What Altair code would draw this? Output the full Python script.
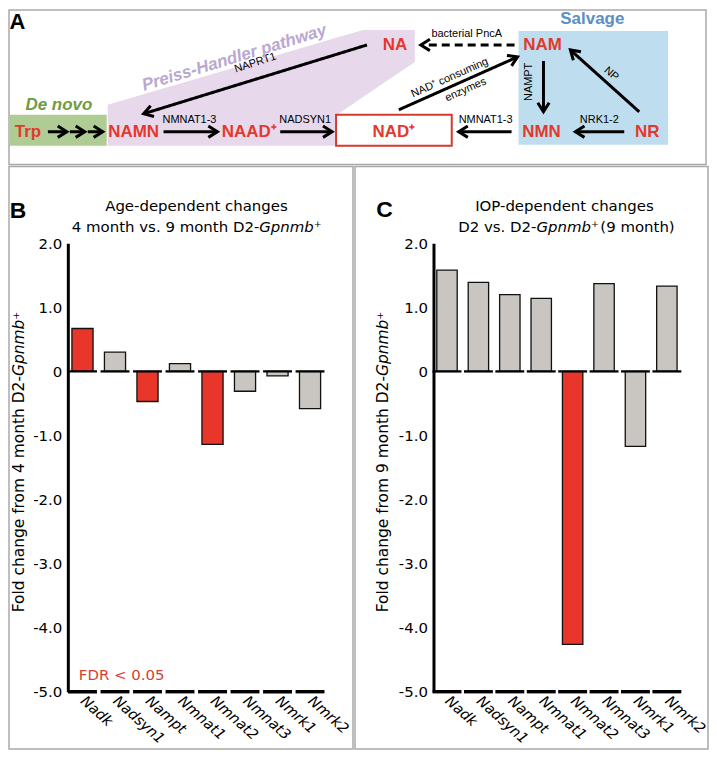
import altair as alt
import pandas as pd

# ---------------- data: bar panels ----------------
genes = ["Nadk", "Nadsyn1", "Nampt", "Nmnat1", "Nmnat2", "Nmnat3", "Nmrk1", "Nmrk2"]
age_fc = [0.67, 0.30, -0.47, 0.12, -1.14, -0.31, -0.07, -0.58]
age_sig = [1, 0, 1, 0, 1, 0, 0, 0]
iop_fc = [1.58, 1.39, 1.20, 1.14, -4.26, 1.37, -1.17, 1.33]
iop_sig = [0, 0, 0, 0, 1, 0, 0, 0]
y_ticks = [2, 1, 0, -1, -2, -3, -4, -5]

# ---------------- data: pathway diagram (diagram units) ----------------
node_names = ["Trp", "NAMN", "NAAD⁺", "NAD⁺", "NA", "NAM", "NMN", "NR"]
node_x = [27, 133, 249, 394, 395, 543, 542, 648]
node_y = [130, 130, 130, 130, 43, 43, 130, 130]

arrow_x1 = [47, 69, 87, 367, 163, 280, 512, 625, 544, 640, 399, 515]
arrow_y1 = [130, 130, 130, 43, 130, 130, 130, 130, 59, 110, 108, 43]
arrow_x2 = [66, 84, 102, 143, 217, 332, 459, 576, 544, 571, 518, 421]
arrow_y2 = [130, 130, 130, 112, 130, 130, 130, 130, 110, 48, 55, 43]
arrow_dashed = [0, 0, 0, 0, 0, 0, 0, 0, 0, 0, 0, 1]

enzyme_names = ["NAPRT1", "NMNAT1-3", "NADSYN1", "NMNAT1-3", "NRK1-2", "NAMPT",
                "NP", "NAD⁺ consuming", "enzymes", "bacterial PncA"]
enzyme_x = [255, 189, 305, 486, 600, 529, 612, 450, 466, 467]
enzyme_y = [61, 118, 118, 118, 118, 80, 72, 76, 88, 32]
enzyme_angle = [342, 0, 0, 0, 0, 270, 41, 336, 336, 0]

box_x1 = [9, 519]
box_x2 = [106, 669]
box_y1 = [113, 29]
box_y2 = [144, 143]
box_fill = ["#B0CC95", "#BEDDEE"]
nad_box = {"x1": [336], "x2": [452], "y1": [113], "y2": [144]}

# Preiss-Handler shaded region, drawn as two pieces
purple_part = ["a", "a", "b", "b", "b"]
purple_x = [107, 337, 337, 363, 415]
purple_top = [103, 35.6, 35.6, 28, 28]
purple_bot = [144, 144, 113, 95.3, 60]

FONT_A = "Liberation Sans"
FONT_B = "DejaVu Sans"
RED = "#E3392C"
BAR_RED = "#E9362A"
BAR_GRAY = "#C9C5C1"

A_W = 699
PANEL_H = 584

# ---------------- panel A ----------------
xs = alt.Scale(domain=[8, 8 + A_W], range=[0, A_W], nice=False, zero=False)
ys = alt.Scale(domain=[8, 163], range=[0, 155], nice=False, zero=False)


def X(f):
    return alt.X(f, scale=xs, axis=None)


def Y(f):
    return alt.Y(f, scale=ys, axis=None, stack=None)


def atext(text, x, y, **kw):
    return alt.Chart(pd.DataFrame({"t": [text], "x": [x], "y": [y]})).mark_text(clip=True, **kw).encode(
        x=X("x:Q"), y=Y("y:Q"), text="t:N")


boxes = alt.Chart(pd.DataFrame({"x1": box_x1, "x2": box_x2, "y1": box_y1, "y2": box_y2, "f": box_fill})).mark_rect(clip=True).encode(
    x=X("x1:Q"), x2="x2:Q", y=Y("y1:Q"), y2="y2:Q", color=alt.Color("f:N", scale=None))

purple = alt.Chart(pd.DataFrame({"part": purple_part, "x": purple_x, "top": purple_top, "bot": purple_bot})).mark_area(
    color="#E8D8EB", opacity=1, clip=True).encode(x=X("x:Q"), y=Y("top:Q"), y2="bot:Q", detail="part:N")

nadrect = alt.Chart(pd.DataFrame(nad_box)).mark_rect(fill="white", stroke="#D13A2D", strokeWidth=2, clip=True).encode(
    x=X("x1:Q"), x2="x2:Q", y=Y("y1:Q"), y2="y2:Q")

arrows_df = pd.DataFrame({"ax": arrow_x1, "ay": arrow_y1, "bx": arrow_x2, "by": arrow_y2, "dashed": arrow_dashed})
shafts = alt.Chart(arrows_df).mark_rule(strokeWidth=3, color="black", clip=True).encode(
    x=X("ax:Q"), y=Y("ay:Q"), x2="bx:Q", y2="by:Q",
    strokeDash=alt.condition("datum.dashed == 1", alt.value([8, 5]), alt.value([1, 0])))
heads = alt.Chart(arrows_df).transform_calculate(
    ang="(atan2(datum.by - datum.ay, datum.bx - datum.ax) * 180 / PI + 360) % 360"
).mark_point(shape="M-1.6,-1L0,0L-1.6,1", filled=False, size=130, strokeWidth=3, color="black", opacity=1, clip=True).encode(
    x=X("bx:Q"), y=Y("by:Q"), angle=alt.Angle("ang:Q", scale=None))

nodes = alt.Chart(pd.DataFrame({"t": node_names, "x": node_x, "y": node_y})).mark_text(
    font=FONT_A, fontWeight="bold", fontSize=17, color=RED, baseline="middle", align="center", clip=True).encode(
    x=X("x:Q"), y=Y("y:Q"), text="t:N")

enzymes = alt.Chart(pd.DataFrame({"t": enzyme_names, "x": enzyme_x, "y": enzyme_y, "a": enzyme_angle})).mark_text(
    font=FONT_A, fontSize=11, color="black", baseline="middle", align="center", clip=True).encode(
    x=X("x:Q"), y=Y("y:Q"), text="t:N", angle=alt.Angle("a:Q", scale=None))

panel_a = alt.layer(
    purple, boxes, nadrect, shafts, heads, nodes, enzymes,
    atext("A", 16.5, 9.5, font=FONT_A, fontWeight="bold", fontSize=22, color="black", align="center", baseline="top"),
    atext("De novo", 58, 103, font=FONT_A, fontWeight="bold", fontStyle="italic", fontSize=17, color="#6F9C40", baseline="middle"),
    atext("Salvage", 593, 17, font=FONT_A, fontWeight="bold", fontSize=17, color="#5B8FC4", baseline="middle"),
    atext("Preiss-Handler pathway", 234, 56, font=FONT_A, fontWeight="bold", fontStyle="italic", fontSize=17,
          color="#B9A8CF", baseline="middle", angle=343),
).properties(width=A_W, height=155)


# ---------------- panels B, C ----------------
def vtext(text, x, y, **kw):
    return alt.Chart(pd.DataFrame({"t": [text]})).mark_text(**kw).encode(
        text="t:N", x=alt.value(x), y=alt.value(y))


def bar_panel(fc, sig, width, axis_x, band_lo, band_hi, texts):
    df = pd.DataFrame({"gene": genes, "fc": fc, "col": [BAR_RED if s else BAR_GRAY for s in sig]})
    xsc = alt.Scale(domain=genes, range=[band_lo, band_hi], paddingInner=0.35, paddingOuter=0.175)
    ysc = alt.Scale(domain=[-5, 2], range=[526.6, 76.9], nice=False)
    xax = alt.Axis(title=None, domain=False, ticks=False, labelAngle=42, labelAlign="left", labelBaseline="middle",
                   labelFont=FONT_B, labelFontStyle="italic", labelFontSize=14.5, labelColor="black",
                   labelPadding=7, offset=-(PANEL_H - 526.6), labelOverlap=False, labelLimit=300)
    yax = alt.Axis(title=None, values=y_ticks,
                   labelExpr="datum.value == 0 ? '0' : (datum.value < 0 ? '-' : '') + format(abs(datum.value), '.1f')",
                   ticks=False, grid=False, domainColor="black", domainWidth=3, labelFont=FONT_B, labelFontSize=15,
                   labelColor="black", labelPadding=6, offset=-axis_x)
    bars = alt.Chart(df).mark_bar(stroke="#111111", strokeWidth=1.3).encode(
        x=alt.X("gene:N", scale=xsc, axis=xax, sort=genes),
        y=alt.Y("fc:Q", scale=ysc, axis=yax), y2=alt.datum(0),
        color=alt.Color("col:N", scale=None))
    seg0 = alt.Chart(pd.DataFrame({"gene": genes, "lvl": [0] * len(genes)})).mark_tick(
        color="black", size=29, thickness=2.3, opacity=1).encode(x=alt.X("gene:N", sort=genes), y="lvl:Q")
    seg5 = alt.Chart(pd.DataFrame({"gene": genes, "lvl": [-5] * len(genes)})).mark_tick(
        color="black", size=29, thickness=3.4, opacity=1).encode(x=alt.X("gene:N", sort=genes), y="lvl:Q")
    return alt.layer(bars, seg0, seg5, *texts).properties(width=width, height=PANEL_H)


title_kw = dict(font=FONT_B, fontSize=15, color="black", baseline="alphabetic")
ytitle_kw = dict(font=FONT_B, fontSize=15.5, color="black", baseline="middle", angle=270)

texts_b = [
    vtext("B", 9, 52, font=FONT_A, fontWeight="bold", fontSize=23, color="black", align="center", baseline="alphabetic"),
    vtext("Age-dependent changes", 188, 45, align="center", **title_kw),
    vtext("4 month vs. 9 month D2-", 251, 65.3, align="right", **title_kw),
    vtext("Gpnmb⁺", 251, 65.3, align="left", fontStyle="italic", **title_kw),
    vtext("Fold change from 4 month D2-", 10, 210, align="right", **ytitle_kw),
    vtext("Gpnmb⁺", 10, 210, align="left", fontStyle="italic", **ytitle_kw),
    vtext("FDR < 0.05", 70, 515, align="left", font=FONT_B, fontSize=15, color="#D8402F", baseline="alphabetic"),
]
texts_c = [
    vtext("C", 29.5, 51, font=FONT_A, fontWeight="bold", fontSize=23, color="black", align="center", baseline="alphabetic"),
    vtext("IOP-dependent changes", 210, 45, align="center", **title_kw),
    vtext("D2 vs. D2-", 182, 65.3, align="right", **title_kw),
    vtext("Gpnmb⁺", 182, 65.3, align="left", fontStyle="italic", **title_kw),
    vtext("(9 month)", 246, 65.3, align="left", **title_kw),
    vtext("Fold change from 9 month D2-", 28, 210, align="right", **ytitle_kw),
    vtext("Gpnmb⁺", 28, 210, align="left", fontStyle="italic", **ytitle_kw),
]

panel_b = bar_panel(age_fc, age_sig, 345, 59, 57.4, 318.2, texts_b)
panel_c = bar_panel(iop_fc, iop_sig, 354, 78.7, 76.5, 328.5, texts_c)

chart = alt.vconcat(
    panel_a,
    alt.hconcat(panel_b, panel_c, spacing=0),
    spacing=0,
).properties(padding=0).configure_view(stroke="#A9A9A9", strokeWidth=1.5).configure_concat(spacing=0)

chart.save("out.html", embed_options={"renderer": "svg", "actions": False})
